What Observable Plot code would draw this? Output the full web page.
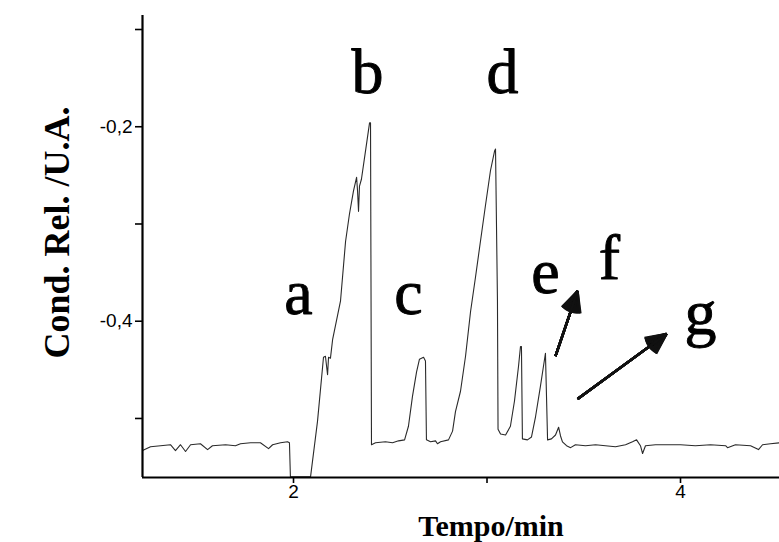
<!DOCTYPE html>
<html><head><meta charset="utf-8">
<script src="https://cdn.jsdelivr.net/npm/d3@7"></script>
<script src="https://cdn.jsdelivr.net/npm/@observablehq/plot@0.6"></script>
<style>html,body{margin:0;padding:0;background:#fff}#chart svg{display:block}</style>
</head><body><div id="chart"></div>
<script>
// Electropherogram trace: time (min) and relative conductivity (U.A.)
const time = [1.220,1.261,1.313,1.364,1.390,1.416,1.442,1.468,1.519,1.556,1.581,1.649,1.700,1.726,1.778,1.829,1.871,1.892,1.933,1.969,1.979,1.984,2.030,2.088,
  2.124,2.155,2.165,2.176,2.181,2.191,2.202,2.243,2.269,2.289,2.310,2.326,2.331,2.336,2.341,2.351,2.372,2.393,2.398,2.403,
  2.424,2.475,2.512,2.543,2.574,2.594,2.615,2.636,2.651,2.672,2.682,2.687,2.708,2.734,2.744,2.760,2.801,
  2.822,2.837,2.863,2.889,2.915,2.941,2.966,2.992,3.018,3.039,3.044,3.054,3.057,3.070,3.096,
  3.121,3.142,3.163,3.173,3.178,3.183,3.209,3.230,3.251,3.276,3.292,3.302,3.313,3.333,3.354,3.370,3.380,3.390,3.411,3.432,
  3.457,3.509,3.561,3.612,3.664,3.716,3.752,3.773,3.793,3.804,3.819,3.871,3.923,4.000,4.077,4.155,4.233,4.243,4.284,4.362,4.403,4.424,4.465,4.511];
const signal = [-0.533,-0.529,-0.528,-0.527,-0.533,-0.527,-0.534,-0.527,-0.526,-0.532,-0.528,-0.527,-0.528,-0.526,-0.525,-0.525,-0.531,-0.527,-0.525,-0.524,-0.525,-0.560,-0.560,-0.560,
  -0.503,-0.437,-0.436,-0.455,-0.437,-0.438,-0.419,-0.379,-0.318,-0.290,-0.266,-0.252,-0.266,-0.287,-0.261,-0.254,-0.225,-0.196,-0.196,-0.527,
  -0.525,-0.524,-0.525,-0.523,-0.522,-0.508,-0.477,-0.452,-0.439,-0.437,-0.441,-0.522,-0.524,-0.523,-0.526,-0.524,-0.522,
  -0.513,-0.493,-0.472,-0.436,-0.390,-0.354,-0.318,-0.281,-0.245,-0.225,-0.223,-0.379,-0.511,-0.516,-0.517,
  -0.508,-0.482,-0.446,-0.426,-0.426,-0.521,-0.522,-0.519,-0.498,-0.467,-0.446,-0.433,-0.522,-0.521,-0.517,-0.509,-0.518,-0.524,-0.528,-0.530,
  -0.527,-0.528,-0.527,-0.528,-0.529,-0.527,-0.524,-0.522,-0.528,-0.536,-0.528,-0.527,-0.527,-0.527,-0.528,-0.527,-0.528,-0.530,-0.527,-0.528,-0.532,-0.527,-0.526,-0.525];

// Axis ticks
const yTicks = [-0.1, -0.2, -0.3, -0.4, -0.5];
const yTickLabels = ["", "-0,2", "", "-0,4", ""];
const xTicks = [2, 3, 4];
const xTickLabels = ["2", "", "4"];
const xDomain = [1.2196, 4.5116];
const yDomain = [-0.5607, -0.0856];

// Peak labels
const peakNames = ["a", "b", "c", "d", "e", "f", "g"];
const peakLabelTime = [2.026, 2.382, 2.594, 3.080, 3.302, 3.633, 4.103];
const peakLabelValue = [-0.393, -0.165, -0.393, -0.165, -0.371, -0.357, -0.413];

// Arrows (start -> tip)
const arrowStartTime = [3.354, 3.468];
const arrowStartValue = [-0.436, -0.480];
const arrowTipTime = [3.468, 3.928];
const arrowTipValue = [-0.369, -0.413];

const xTitle = "Tempo/min";
const yTitle = "Cond. Rel. /U.A.";

const trace = time.map((t, i) => ({t, v: signal[i]}));
const labels = peakNames.map((n, i) => ({n, t: peakLabelTime[i], v: peakLabelValue[i]}));
const arrows = arrowStartTime.map((t, i) => ({x1: t, y1: arrowStartValue[i], x2: arrowTipTime[i], y2: arrowTipValue[i]}));
const yTickData = yTicks.map((v, i) => ({v, s: yTickLabels[i]})).filter(d => d.s);
const xTickData = xTicks.map((t, i) => ({t, s: xTickLabels[i]})).filter(d => d.s);

const arrowLayers = [0, 6, 12, 18, 24, 30, 36, 42, 48, 52].map(a =>
  Plot.arrow(arrows, {x1: "x1", y1: "y1", x2: "x2", y2: "y2", stroke: "#111", strokeWidth: 2.4,
    headAngle: a, headLength: 14, strokeLinecap: "butt"}));

const serif = "Liberation Serif, Times New Roman, serif";
const sans = "Liberation Sans, Arial, sans-serif";

const chart = Plot.plot({
  width: 779, height: 542,
  marginLeft: 142, marginRight: 0, marginTop: 15, marginBottom: 65,
  style: {background: "#fff", color: "#000"},
  x: {domain: xDomain},
  y: {domain: yDomain},
  marks: [
    Plot.line(trace, {x: "t", y: "v", stroke: "#2a2a2a", strokeWidth: 1.1, clip: true}),
    Plot.ruleX([xDomain[0]], {stroke: "#000", strokeWidth: 2.2}),
    Plot.ruleY([yDomain[0]], {stroke: "#000", strokeWidth: 2.2}),
    Plot.axisY(yTicks, {tickSize: 7, strokeWidth: 1.6, label: null, tickFormat: () => ""}),
    Plot.axisX(xTicks, {tickSize: 6, strokeWidth: 1.6, label: null, tickFormat: () => ""}),
    Plot.text(yTickData, {x: xDomain[0], y: "v", text: "s", dx: -10, textAnchor: "end",
      fontSize: 19, fontFamily: sans, fill: "#000"}),
    Plot.text(xTickData, {x: "t", y: yDomain[0], text: "s", dy: 7, lineAnchor: "top",
      fontSize: 19, fontFamily: sans, fill: "#000"}),
    ...arrowLayers,
    Plot.text(labels, {x: "t", y: "v", text: "n", lineAnchor: "bottom", textAnchor: "middle",
      fontSize: 64, fontFamily: serif, fill: "#000", stroke: "#000", strokeWidth: 0.9}),
    Plot.text([yTitle], {frameAnchor: "left", dx: -85, dy: -14, rotate: -90, textAnchor: "middle",
      fontSize: 36, fontWeight: "bold", fontFamily: serif, fill: "#000"}),
    Plot.text([xTitle], {frameAnchor: "bottom", dx: 30, dy: 58, lineAnchor: "bottom", textAnchor: "middle",
      fontSize: 30, fontWeight: "bold", fontFamily: serif, fill: "#000"})
  ]
});
document.getElementById("chart").appendChild(chart);
</script>
</body></html>
